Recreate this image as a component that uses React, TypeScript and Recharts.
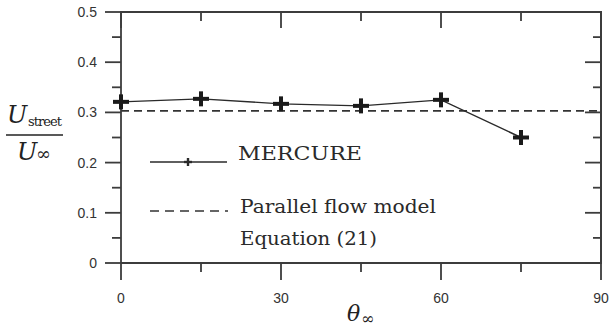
import { LineChart, Line, XAxis, YAxis, ReferenceLine } from "recharts";

const thetaValues = [0, 15, 30, 45, 60, 75];
const mercureValues = [0.321, 0.327, 0.317, 0.313, 0.325, 0.25];
const parallelFlowValue = 0.303;

const xMajorTicks = [0, 30, 60, 90];
const xMinorTicks = [15, 45, 75];
const xTickLabels = ["0", "30", "60", "90"];
const yMajorTicks = [0, 0.1, 0.2, 0.3, 0.4, 0.5];
const yMinorTicks = [0.05, 0.15, 0.25, 0.35, 0.45];
const yTickLabels = ["0", "0.1", "0.2", "0.3", "0.4", "0.5"];

const data = thetaValues.map((theta, i) => ({ theta, mercure: mercureValues[i] }));

// plot box in px (chart 609x328 minus margins and axis bands)
const PLOT = { left: 121, top: 12, width: 480, height: 251 };

const INK = "#2a2a2a";
const AXIS = "#3c3c3c";
const sans = (size: number) => ({ fontFamily: "'Liberation Sans', Arial, sans-serif", fontSize: size });
const serif = (size: number, italic = false) => ({
  fontFamily: "'DejaVu Serif', serif",
  fontSize: size,
  fontStyle: italic ? "italic" : "normal",
});

const majorIndex = (list: number[], v: number) => list.findIndex((m) => Math.abs(m - v) < 1e-6);

// bottom axis ticks point out, the mirrored top ones point in
const BottomTick = (props: any) => {
  const x = Number(props.x);
  const y = Number(props.y);
  const i = majorIndex(xMajorTicks, props.payload.value);
  const major = i >= 0;
  return (
    <g>
      <line x1={x} y1={y} x2={x} y2={y + (major ? 17 : 9)} stroke={AXIS} strokeWidth={1.8} />
      <line x1={x} y1={PLOT.top} x2={x} y2={PLOT.top + (major ? 16 : 9)} stroke={AXIS} strokeWidth={1.8} />
      {major && (
        <text x={x} y={y + 40} textAnchor="middle" style={sans(14)} fill="#333">
          {xTickLabels[i]}
        </text>
      )}
    </g>
  );
};

const LeftTick = (props: any) => {
  const x = Number(props.x);
  const y = Number(props.y);
  const i = majorIndex(yMajorTicks, props.payload.value);
  const major = i >= 0;
  const right = PLOT.left + PLOT.width;
  return (
    <g>
      <line x1={x - (major ? 16 : 9)} y1={y} x2={x} y2={y} stroke={AXIS} strokeWidth={1.8} />
      <line x1={right - (major ? 16 : 8)} y1={y} x2={right} y2={y} stroke={AXIS} strokeWidth={1.8} />
      {major && (
        <text x={x - 24} y={y + 5} textAnchor="end" style={sans(14)} fill="#333">
          {yTickLabels[i]}
        </text>
      )}
    </g>
  );
};

const PlusDot = ({ cx, cy, index }: any) => {
  if (cx == null || cy == null) return <g key={`p${index}`} />;
  return (
    <g key={`p${index}`} stroke="#1a1a1a" strokeWidth={4}>
      <line x1={cx - 8} y1={cy} x2={cx + 8} y2={cy} />
      <line x1={cx} y1={cy - 7.5} x2={cx} y2={cy + 7.5} />
    </g>
  );
};

const allXTicks = [...xMajorTicks, ...xMinorTicks].sort((a, b) => a - b);
const allYTicks = [...yMajorTicks, ...yMinorTicks].sort((a, b) => a - b);

export default function App() {
  return (
    <div style={{ position: "absolute", left: 0, top: 0, width: 609, height: 328 }}>
      <LineChart width={609} height={328} data={data} margin={{ top: 12, right: 8, bottom: 35, left: 81 }}>
        <XAxis
          dataKey="theta"
          type="number"
          domain={[0, 90]}
          ticks={allXTicks}
          interval={0}
          height={30}
          tickSize={0}
          tickMargin={0}
          tickLine={false}
          axisLine={{ stroke: AXIS, strokeWidth: 1.8 }}
          tick={<BottomTick />}
        />
        <YAxis
          type="number"
          domain={[0, 0.5]}
          ticks={allYTicks}
          interval={0}
          width={40}
          tickSize={0}
          tickMargin={0}
          tickLine={false}
          axisLine={{ stroke: AXIS, strokeWidth: 1.8 }}
          tick={<LeftTick />}
        />
        <ReferenceLine y={parallelFlowValue} stroke="#333" strokeWidth={1.6} strokeDasharray="8 5" />
        <Line
          dataKey="mercure"
          stroke={INK}
          strokeWidth={1.4}
          dot={PlusDot}
          activeDot={false}
          isAnimationActive={false}
        />

        {/* legend */}
        <line x1={150} y1={162} x2={227} y2={162} stroke={INK} strokeWidth={1.4} />
        <line x1={184} y1={162} x2={192} y2={162} stroke={INK} strokeWidth={2.4} />
        <line x1={188} y1={158} x2={188} y2={166} stroke={INK} strokeWidth={2.4} />
        <text x={238} y={159.5} style={serif(19)} fill="#2a2a2a" textLength={124} lengthAdjust="spacingAndGlyphs">
          MERCURE
        </text>
        <line x1={150} y1={211} x2={228} y2={211} stroke="#333" strokeWidth={1.6} strokeDasharray="9 6" />
        <text x={240} y={213} style={serif(19)} fill="#2a2a2a" textLength={196} lengthAdjust="spacingAndGlyphs">
          Parallel flow model
        </text>
        <text x={240} y={245} style={serif(19)} fill="#2a2a2a" textLength={137} lengthAdjust="spacingAndGlyphs">
          Equation (21)
        </text>

        {/* y axis label */}
        <text x={7} y={123} style={serif(24, true)} fill="#222">U</text>
        <text x={28} y={126} style={serif(13)} fill="#222" textLength={34}>street</text>
        <line x1={6} y1={135} x2={63} y2={135} stroke="#222" strokeWidth={1.3} />
        <text x={17} y={160} style={serif(24, true)} fill="#222">U</text>
        <text x={36} y={160} style={serif(18)} fill="#222">∞</text>

        {/* x axis label */}
        <text x={347} y={321} style={serif(22, true)} fill="#222">θ</text>
        <text x={361} y={324} style={serif(16)} fill="#222">∞</text>
      </LineChart>
      {/* top and right edges of the plot frame */}
      <div
        style={{
          position: "absolute",
          left: PLOT.left - 1,
          top: PLOT.top - 1,
          width: PLOT.width,
          height: PLOT.height,
          borderTop: `2px solid ${AXIS}`,
          borderRight: `2px solid ${AXIS}`,
          pointerEvents: "none",
        }}
      />
    </div>
  );
}
